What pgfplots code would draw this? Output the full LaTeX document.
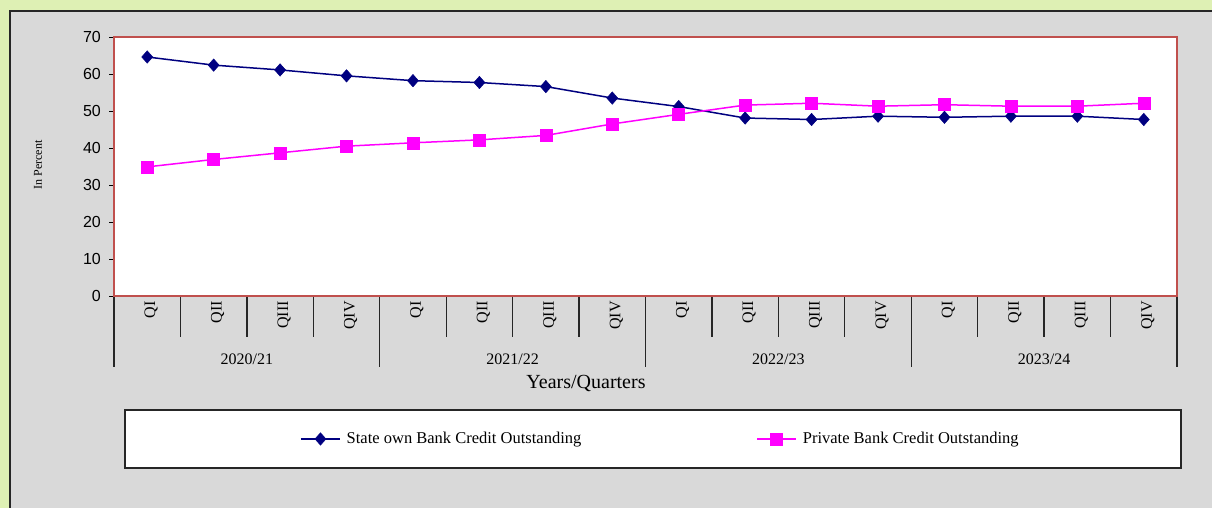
\documentclass[border=0pt]{standalone}
\usepackage{pgfplots}
\pgfplotsset{compat=1.18}
\usepackage{fontspec}
\setmainfont{Liberation Serif}
\newfontfamily\arialfont{Liberation Sans}
\definecolor{bggreen}{RGB}{222,240,180}
\definecolor{bggray}{RGB}{217,217,217}
\definecolor{frame}{RGB}{38,38,38}
\definecolor{plotred}{RGB}{192,80,77}
\definecolor{navyc}{RGB}{0,0,128}
\definecolor{magc}{RGB}{255,0,255}
\begin{document}
\begin{tikzpicture}
\path[use as bounding box] (0pt,0pt) rectangle (1212pt,-508pt);
\clip (0pt,0pt) rectangle (1212pt,-508pt);
\fill[bggreen] (0pt,0pt) rectangle (1212pt,-508pt);
\filldraw[fill=bggray, draw=frame, line width=2pt] (10pt,-11pt) rectangle (1240pt,-540pt);
% legend box
\filldraw[fill=white, draw=frame, line width=1.8pt] (125pt,-410pt) rectangle (1181pt,-468pt);
% category separators
\foreach \k in {1,2,3,5,6,7,9,10,11,13,14,15}{
  \pgfmathsetmacro\xx{114+\k*66.4375}
  \draw[frame, line width=1.3pt] (\xx pt,-296pt) -- (\xx pt,-337pt);
}
\foreach \k in {0,4,8,12,16}{
  \pgfmathsetmacro\xx{114+\k*66.4375}
  \draw[frame, line width=1.3pt] (\xx pt,-296pt) -- (\xx pt,-367pt);
}
\foreach \g/\t in {0/2020\slash21,1/2021\slash22,2/2022\slash23,3/2023\slash24}{
  \pgfmathsetmacro\xx{114+(2+4*\g)*66.4375}
  \node[font=\fontsize{16}{19}\selectfont, inner sep=0pt] at (\xx pt,-359pt) {\t};
}
\node[font=\fontsize{20}{24}\selectfont, inner sep=0pt] at (586pt,-383pt) {Years/Quarters};
\node[font=\fontsize{12}{14}\selectfont, inner sep=0pt, rotate=90] at (38pt,-165pt) {In Percent};
\begin{axis}[
  at={(114pt,-296pt)}, anchor=south west,
  scale only axis, width=1063pt, height=259pt,
  xmin=-0.5, xmax=15.5, ymin=0, ymax=70,
  ytick={0,10,...,70},
  xtick={0,...,15},
  xticklabels={QI,QII,QIII,QIV,QI,QII,QIII,QIV,QI,QII,QIII,QIV,QI,QII,QIII,QIV},
  xtick style={draw=none},
  ytick style={draw=black, line width=1pt},
  major tick length=5pt,
  tick align=outside,
  ytick pos=left, xtick pos=bottom,
  axis line style={draw=plotred, line width=2.8pt},
  axis background/.style={fill=white},
  /pgf/number format/assume math mode=true,
  yticklabel style={font=\arialfont\fontsize{16}{19}\selectfont, inner sep=0pt, xshift=-8pt},
  xticklabel style={font=\fontsize{16}{19}\selectfont, rotate=90, anchor=east, inner sep=0pt, yshift=-4pt},
  legend columns=2,
  legend style={draw=none, fill=none, at={(0.175,-0.552)}, anchor=west, inner sep=0pt,
    font=\fontsize{16.5}{19}\selectfont,
    nodes={inner sep=0pt},
    /tikz/every odd column/.append style={column sep=6pt},
    /tikz/every even column/.append style={column sep=175pt}},
  legend image code/.code={\draw[mark repeat=2,mark phase=2,#1] plot coordinates {(0pt,0pt) (19.5pt,0pt) (39pt,0pt)};},
]
\addplot[color=navyc, line width=1.5pt, mark=diamond*, mark size=6.2pt, mark options={solid, fill=navyc, line width=0.5pt, xscale=1.18}]
coordinates {(0,64.6) (1,62.4) (2,61.1) (3,59.5) (4,58.2) (5,57.7) (6,56.6) (7,53.5) (8,51.2) (9,48.1) (10,47.7) (11,48.6) (12,48.3) (13,48.6) (14,48.6) (15,47.7)};
\addlegendentry{State own Bank Credit Outstanding}
\addplot[color=magc, line width=1.5pt, mark=square*, mark size=6pt, mark options={solid, fill=magc, line width=0.5pt}]
coordinates {(0,34.9) (1,36.9) (2,38.7) (3,40.5) (4,41.4) (5,42.2) (6,43.4) (7,46.5) (8,49.1) (9,51.6) (10,52.1) (11,51.3) (12,51.7) (13,51.3) (14,51.3) (15,52.1)};
\addlegendentry{Private Bank Credit Outstanding}
\end{axis}
\end{tikzpicture}
\end{document}
